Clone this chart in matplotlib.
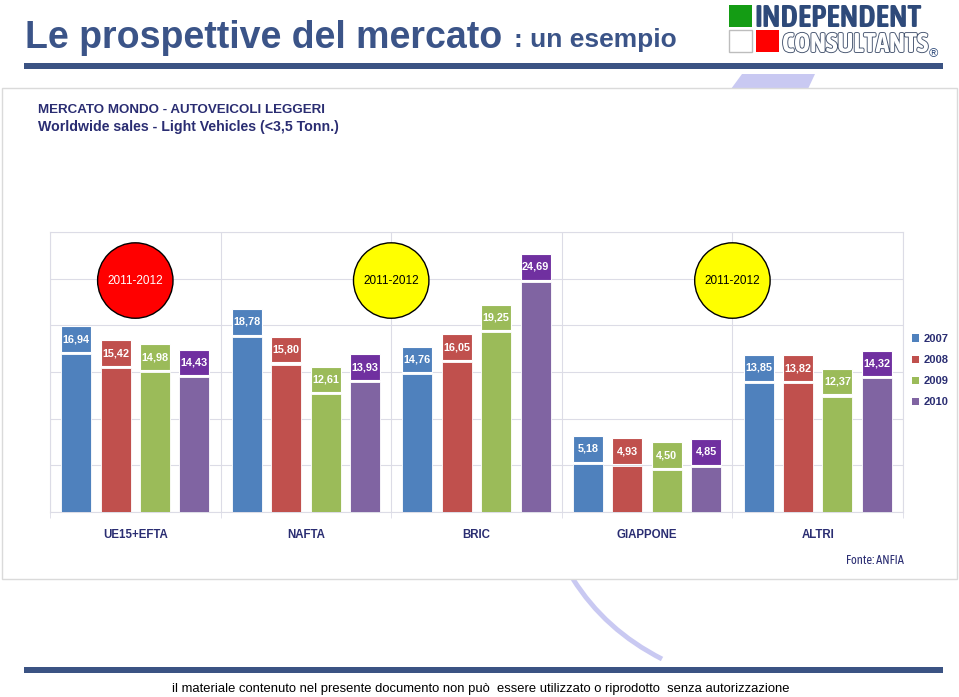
import matplotlib
matplotlib.use("Agg")
import matplotlib.pyplot as plt
from matplotlib.patches import Rectangle, Polygon, PathPatch, Patch
from matplotlib.path import Path
import matplotlib.patheffects as pe
import numpy as np

# --- data (milioni di veicoli) ---
regions = ["UE15+EFTA", "NAFTA", "BRIC", "GIAPPONE", "ALTRI"]
years = ["2007", "2008", "2009", "2010"]
sales_2007 = [16.94, 18.78, 14.76, 5.18, 13.85]
sales_2008 = [15.42, 15.80, 16.05, 4.93, 13.82]
sales_2009 = [14.98, 12.61, 19.25, 4.50, 12.37]
sales_2010 = [14.43, 13.93, 24.69, 4.85, 14.32]

forecast_label = "2011-2012"

# --- styling ---
bar_colors = ["#4F81BD", "#C0504D", "#9BBB59", "#8064A2"]
box_colors = ["#4F81BD", "#C0504D", "#9BBB59", "#7030A0"]
bubble_x = [0, 1.5, 3.5]
bubble_y = 24.8
bubble_colors = ["#FF0000", "#FFFF00", "#FFFF00"]
bubble_text = ["white", "black", "black"]
NAVY = "#3B5488"
DARK = "#2A2D72"
GRID = "#DCDCE6"
LAV = "#C9C9F2"

plt.rcParams["font.family"] = ["Liberation Sans", "DejaVu Sans"]
COND = ["Asap Condensed", "Liberation Sans", "DejaVu Sans"]

W, H = 959, 697
fig = plt.figure(figsize=(W / 100, H / 100), dpi=100)
fig.patch.set_facecolor("white")

# background layer in pixel coordinates
bg = fig.add_axes([0, 0, 1, 1])
bg.set_xlim(0, W)
bg.set_ylim(H, 0)
bg.axis("off")

# lavender decorations
bg.add_patch(Polygon([[742, 74], [815, 74], [808, 89], [731, 89]], closed=True,
                     facecolor=LAV, edgecolor="none"))
curve = Path([(573, 579), (605, 630), (662, 659)], [Path.MOVETO, Path.CURVE3, Path.CURVE3])
bg.add_patch(PathPatch(curve, facecolor="none", edgecolor=LAV, lw=3.5))

# white panel
bg.add_patch(Rectangle((2, 88), 955, 491, facecolor="white", edgecolor="#DADADA", lw=1))

# title
bg.text(25, 48, "Le prospettive del mercato", fontsize=27, fontweight="bold",
        color=NAVY, va="baseline")
bg.text(514, 47, ": un esempio", fontsize=19, fontweight="bold",
        color=NAVY, va="baseline")
bg.add_patch(Rectangle((24, 63), 919, 6, facecolor="#3B5383", edgecolor="none"))

# logo
bg.add_patch(Rectangle((729, 5), 23, 22, facecolor="#149C14", edgecolor="none"))
bg.add_patch(Rectangle((729, 30), 23, 22, facecolor="white", edgecolor="#BDBDBD", lw=1))
bg.add_patch(Rectangle((756, 30), 23, 22, facecolor="#FF0000", edgecolor="none"))
bg.text(755, 27, "INDEPENDENT", fontsize=22.5, fontweight="bold", color="#2E4A7A",
        family=COND, va="baseline")
t = bg.text(782, 52, "CONSULTANTS", fontsize=19.5, fontweight="bold", color="white",
            family=COND, va="baseline")
t.set_path_effects([pe.Stroke(linewidth=1.3, foreground="#45546F"), pe.Normal()])
bg.text(929, 57, "®", fontsize=9, color="#2E4A7A", va="baseline")

# subtitles
bg.text(38, 113, "MERCATO MONDO - AUTOVEICOLI LEGGERI", fontsize=9.6, fontweight="bold",
        color=DARK, va="baseline")
bg.text(38, 131, "Worldwide sales - Light Vehicles (<3,5 Tonn.)", fontsize=10.2, fontweight="bold",
        color=DARK, va="baseline")

# source
bg.text(904, 564, "Fonte: ANFIA", fontsize=9, color=DARK, ha="right", va="baseline",
        family=COND)

# footer
bg.add_patch(Rectangle((24, 667), 919, 6, facecolor="#3B5383", edgecolor="none"))
bg.text(481, 692, "il materiale contenuto nel presente documento non può  essere utilizzato o riprodotto  senza autorizzazione",
        fontsize=9.4, color="black", ha="center", va="baseline")

# --- chart ---
ax = fig.add_axes([50 / W, 1 - 512 / H, 853 / W, 280 / H])
ax.patch.set_alpha(0)
ax.set_xlim(-0.5, len(regions) - 0.5)
ax.set_ylim(0, 30)

series = [sales_2007, sales_2008, sales_2009, sales_2010]
x = np.arange(len(regions))
step = 0.231
bw = 0.176
gap = 0.22
box_h = 2.75

for j, vals in enumerate(series):
    xs = x + (j - 1.5) * step
    ax.bar(xs, vals, width=bw, color=bar_colors[j], edgecolor="white", lw=0.6, zorder=3)
    for xi, v in zip(xs, vals):
        ax.add_patch(Rectangle((xi - bw / 2, v + gap), bw, box_h, facecolor=box_colors[j],
                               edgecolor="white", lw=0.8, zorder=3))
        ax.text(xi, v + gap + box_h / 2, f"{v:.2f}".replace(".", ","), color="white",
                fontsize=7.8, fontweight="bold", ha="center", va="center", zorder=4)

# forecast bubbles
ax.scatter(bubble_x, [bubble_y] * len(bubble_x), s=2950, c=bubble_colors,
           edgecolors="black", linewidths=1, zorder=5, clip_on=False)
for bx, tc in zip(bubble_x, bubble_text):
    ax.text(bx, bubble_y, forecast_label, color=tc, fontsize=8.5, ha="center",
            va="center", zorder=6)

# grid
ax.set_yticks(np.arange(0, 31, 5))
ax.yaxis.grid(True, color=GRID, lw=0.8, zorder=0)
ax.set_xticks(x)
ax.set_xticks(np.arange(-0.5, len(regions), 1), minor=True)
ax.xaxis.grid(True, which="minor", color=GRID, lw=0.8, zorder=0)
ax.tick_params(axis="y", left=False, labelleft=False)
ax.tick_params(axis="x", which="major", length=0, pad=12)
ax.tick_params(axis="x", which="minor", length=4, color=GRID)
ax.set_xticklabels(regions, fontsize=8.3, fontweight="bold", color=DARK)
for sp in ax.spines.values():
    sp.set_color(GRID)
    sp.set_linewidth(0.8)

# legend
handles = [Patch(facecolor=c, edgecolor="none", label=y) for c, y in zip(bar_colors, years)]
leg = fig.legend(handles=handles, loc="upper left", bbox_to_anchor=(912 / W, 1 - 334 / H),
                 frameon=False, fontsize=8, handlelength=0.65, handleheight=0.65,
                 handletextpad=0.4, labelspacing=1.0, borderpad=0, borderaxespad=0)
for txt in leg.get_texts():
    txt.set_color(DARK)
    txt.set_fontweight("bold")

fig.savefig("out.png", dpi=100, facecolor="white")
